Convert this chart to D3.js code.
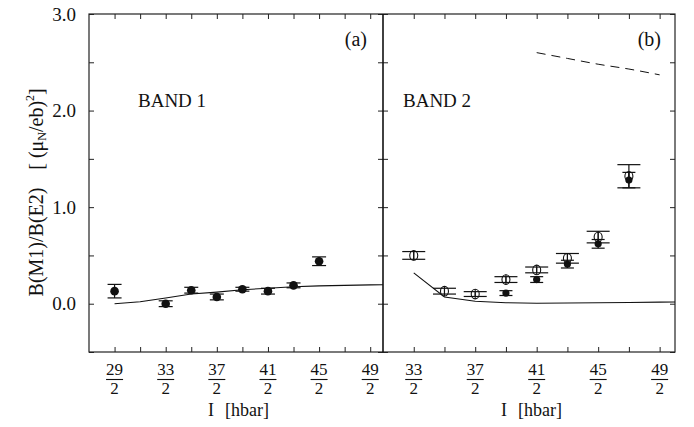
<!DOCTYPE html>
<html><head><meta charset="utf-8">
<script src="https://cdn.jsdelivr.net/npm/d3@7"></script>
<style>body{margin:0;background:#fff}svg{display:block}text{font-family:"Liberation Serif","Times New Roman",serif;fill:#111}</style>
</head><body><svg id="c" width="694" height="427"></svg>
<script>
// ---- data ----
const leftI = [14.5, 16.5, 17.5, 18.5, 19.5, 20.5, 21.5, 22.5];
const leftB = [0.13, 0.00, 0.14, 0.07, 0.15, 0.13, 0.19, 0.44];
const leftErr = [0.07, 0.03, 0.03, 0.03, 0.02, 0.03, 0.025, 0.045];
const leftCalcI = [14.5, 15.5, 16.5, 17.5, 18.5, 19.5, 20.5, 21.5, 22.5, 23.5, 24.5, 25];
const leftCalcB = [0.0, 0.02, 0.06, 0.10, 0.12, 0.145, 0.16, 0.175, 0.185, 0.19, 0.195, 0.197];
const rightOpenI = [16.5, 17.5, 18.5, 19.5, 20.5, 21.5, 22.5, 23.5];
const rightOpenB = [0.50, 0.13, 0.10, 0.25, 0.35, 0.47, 0.69, 1.32];
const rightOpenErr = [0.04, 0.03, 0.025, 0.03, 0.03, 0.05, 0.06, 0.12];
const rightFilledI = [19.5, 20.5, 21.5, 22.5, 23.5];
const rightFilledB = [0.11, 0.25, 0.41, 0.62, 1.28];
const rightFilledErr = [0.025, 0.03, 0.04, 0.045, 0.08];
const rightCalcI = [16.5, 17.5, 18.5, 19.5, 20.5, 21.5, 22.5, 23.5, 24.5, 25];
const rightCalcB = [0.32, 0.07, 0.025, 0.01, 0.005, 0.008, 0.01, 0.013, 0.016, 0.018];
const rightDashI = [20.5, 21.5, 22.5, 23.5, 24.5];
const rightDashB = [2.60, 2.54, 2.48, 2.43, 2.37];
const leftTickLabels = [[14.5, "29"], [16.5, "33"], [18.5, "37"], [20.5, "41"], [22.5, "45"], [24.5, "49"]];
const rightTickLabels = [[16.5, "33"], [18.5, "37"], [20.5, "41"], [22.5, "45"], [24.5, "49"]];
const yTickLabels = [0, 1, 2, 3];

// ---- scales ----
const svg = d3.select("#c");
const yTop = 14, yBot = 352, L = 89, M = 383, R = 675;
const y = d3.scaleLinear().domain([-0.5, 3.0]).range([yBot, yTop]);
const xL = d3.scaleLinear().domain([13.5, 25]).range([L, M]);
const xR = d3.scaleLinear().domain([15.5, 25]).range([M, R]);
const yMinor = d3.range(-0.5, 3.01, 0.5);

function panel(x, xt) {
  const g = svg.append("g");
  g.append("g").attr("transform", `translate(0,${yBot})`).call(d3.axisBottom(x).tickValues(xt).tickSize(-5).tickFormat(""));
  g.append("g").attr("transform", `translate(0,${yTop})`).call(d3.axisTop(x).tickValues(xt).tickSize(-5).tickFormat(""));
  g.selectAll(".domain").remove();
  g.selectAll(".tick line").attr("stroke", "#222").attr("stroke-width", 1);
  return g;
}
panel(xL, d3.range(14.5, 24.6, 1));
panel(xR, d3.range(16.5, 24.6, 1));

// y axes
const ya = svg.append("g");
ya.append("g").attr("transform", `translate(${L},0)`).call(d3.axisLeft(y).tickValues(yMinor).tickSize(-5).tickFormat(""));
ya.append("g").attr("transform", `translate(${M},0)`).call(d3.axisLeft(y).tickValues(yMinor).tickSize(5).tickFormat(""));
ya.append("g").attr("transform", `translate(${M},0)`).call(d3.axisLeft(y).tickValues(yMinor).tickSize(-5).tickFormat(""));
ya.append("g").attr("transform", `translate(${R},0)`).call(d3.axisRight(y).tickValues(yMinor).tickSize(-5).tickFormat(""));
ya.selectAll(".domain").remove();
ya.selectAll(".tick line").attr("stroke", "#222").attr("stroke-width", 1);

// frames
svg.append("rect").attr("x", L).attr("y", yTop).attr("width", R - L).attr("height", yBot - yTop)
  .attr("fill", "none").attr("stroke", "#222").attr("stroke-width", 1.2);
svg.append("line").attr("x1", M).attr("x2", M).attr("y1", yTop).attr("y2", yBot).attr("stroke", "#111").attr("stroke-width", 1.6);

// y tick labels
svg.selectAll(".ytl").data(yTickLabels).join("text")
  .attr("x", 76).attr("y", d => y(d) + 6.5).attr("text-anchor", "end")
  .attr("font-size", 19).text(d => d.toFixed(1));

// fraction tick labels
function fracs(x, labels) {
  const g = svg.append("g");
  labels.forEach(([v, num]) => {
    const cx = x(v);
    g.append("text").attr("x", cx).attr("y", 375).attr("text-anchor", "middle").attr("font-size", 17).text(num);
    g.append("line").attr("x1", cx - 8.5).attr("x2", cx + 8.5).attr("y1", 379.5).attr("y2", 379.5).attr("stroke", "#111").attr("stroke-width", 1.1);
    g.append("text").attr("x", cx).attr("y", 394).attr("text-anchor", "middle").attr("font-size", 17).text("2");
  });
}
fracs(xL, leftTickLabels);
fracs(xR, rightTickLabels);

// x axis titles
[208, 501].forEach((x0) => {
  const t = svg.append("text").attr("x", x0).attr("y", 416).attr("font-size", 18);
  t.append("tspan").text("I");
  t.append("tspan").attr("dx", 11).text("[hbar]");
});

// y title
svg.append("text").attr("transform", "translate(43,242) rotate(-90)").attr("text-anchor", "middle").attr("font-size", 20).text("B(M1)/B(E2)");
const yt2 = svg.append("text").attr("transform", "translate(43,129) rotate(-90)").attr("text-anchor", "middle").attr("font-size", 20);
yt2.append("tspan").text("[ (μ");
yt2.append("tspan").attr("font-size", 12).attr("dy", 3).text("N");
yt2.append("tspan").attr("dy", -3).text("/eb)");
yt2.append("tspan").attr("font-size", 12).attr("dy", -9).text("2");
yt2.append("tspan").attr("dy", 9).text("]");

// panel labels
svg.append("text").attr("x", 367).attr("y", 46).attr("text-anchor", "end").attr("font-size", 20).text("(a)");
svg.append("text").attr("x", 661).attr("y", 46).attr("text-anchor", "end").attr("font-size", 20).text("(b)");
svg.append("text").attr("x", 138).attr("y", 107).attr("font-size", 19).text("BAND 1");
svg.append("text").attr("x", 403).attr("y", 107).attr("font-size", 19).text("BAND 2");

// calc lines
const line = (x) => d3.line().x(d => x(d[0])).y(d => y(d[1]));
svg.append("path").datum(d3.zip(leftCalcI, leftCalcB)).attr("d", line(xL)).attr("fill", "none").attr("stroke", "#111").attr("stroke-width", 1.1);
svg.append("path").datum(d3.zip(rightCalcI, rightCalcB)).attr("d", line(xR)).attr("fill", "none").attr("stroke", "#111").attr("stroke-width", 1.1);
svg.append("path").datum(d3.zip(rightDashI, rightDashB)).attr("d", d3.line().curve(d3.curveMonotoneX).x(d => xR(d[0])).y(d => y(d[1])))
  .attr("fill", "none").attr("stroke", "#111").attr("stroke-width", 1).attr("stroke-dasharray", "9,6");

// error bars + points
function errbars(x, I, B, E, capW) {
  const g = svg.append("g").attr("stroke", "#111").attr("stroke-width", 1.2);
  I.forEach((v, i) => {
    const cx = x(v), y1 = y(B[i] + E[i]), y2 = y(B[i] - E[i]);
    g.append("line").attr("x1", cx).attr("x2", cx).attr("y1", y1).attr("y2", y2);
    g.append("line").attr("x1", cx - capW / 2).attr("x2", cx + capW / 2).attr("y1", y1).attr("y2", y1);
    g.append("line").attr("x1", cx - capW / 2).attr("x2", cx + capW / 2).attr("y1", y2).attr("y2", y2);
  });
}
errbars(xL, leftI, leftB, leftErr, 14);
svg.append("g").selectAll("circle").data(d3.zip(leftI, leftB)).join("circle")
  .attr("cx", d => xL(d[0])).attr("cy", d => y(d[1])).attr("r", 4.3).attr("fill", "#111");

errbars(xR, rightFilledI, rightFilledB, rightFilledErr, 13);
svg.append("g").selectAll("circle").data(d3.zip(rightFilledI, rightFilledB)).join("circle")
  .attr("cx", d => xR(d[0])).attr("cy", d => y(d[1])).attr("r", 3.6).attr("fill", "#111");

errbars(xR, rightOpenI, rightOpenB, rightOpenErr, 23);
svg.append("g").selectAll("ellipse").data(d3.zip(rightOpenI, rightOpenB)).join("ellipse")
  .attr("cx", d => xR(d[0])).attr("cy", d => y(d[1])).attr("rx", 4).attr("ry", 4.8)
  .attr("fill", "none").attr("stroke", "#111").attr("stroke-width", 1.1);
svg.append("g").selectAll("line").data(d3.zip(rightOpenI, rightOpenB)).join("line")
  .attr("x1", d => xR(d[0])).attr("x2", d => xR(d[0])).attr("y1", d => y(d[1]) - 5).attr("y2", d => y(d[1]) + 5)
  .attr("stroke", "#111").attr("stroke-width", 1);
</script></body></html>
